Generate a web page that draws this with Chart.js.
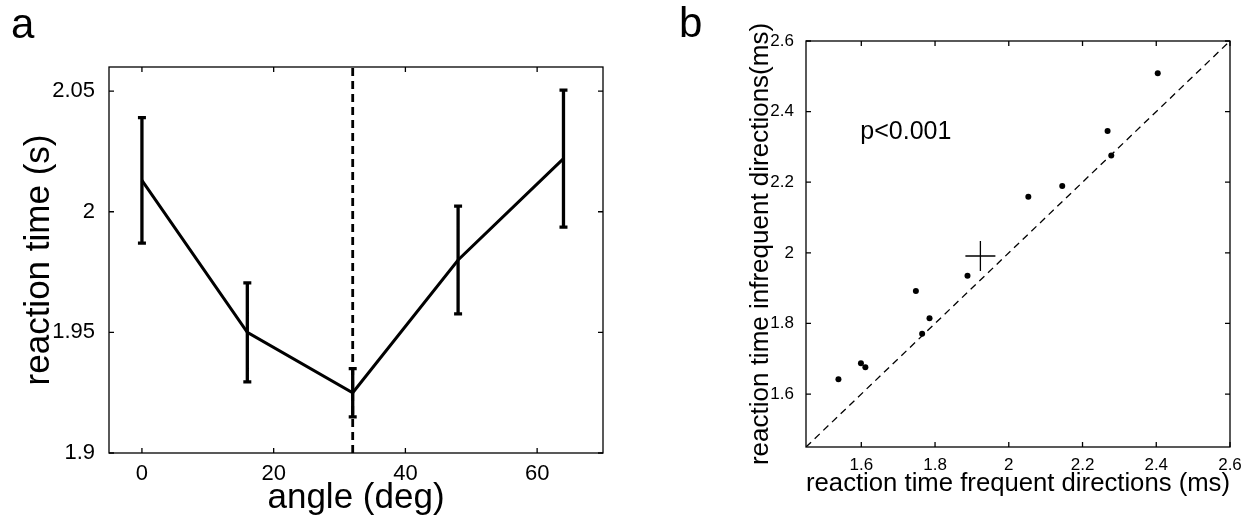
<!DOCTYPE html>
<html>
<head>
<meta charset="utf-8">
<title>reaction time</title>
<script src="https://cdn.jsdelivr.net/npm/chart.js@4.4.1/dist/chart.umd.min.js"></script>
<style>
  html, body { margin: 0; padding: 0; background: #fff; }
  #wrap { position: relative; width: 1250px; height: 518px; }
  #chartA { position: absolute; left: 0; top: 0; }
  #chartB { position: absolute; left: 625px; top: 0; }
</style>
</head>
<body>
<div id="wrap">
  <canvas id="chartA" width="625" height="518"></canvas>
  <canvas id="chartB" width="625" height="518"></canvas>
</div>
<script>
// panel a: reaction time against angle
const angles = [0, 16, 32, 48, 64];
const rtMean = [2.013, 1.950, 1.925, 1.980, 2.022];
const rtErr = [0.026, 0.0205, 0.010, 0.0223, 0.0284];
const angleLimits = [-5, 70];
const rtLimits = [1.9, 2.06];
const angleTicks = [0, 20, 40, 60];
const rtTicks = [1.9, 1.95, 2, 2.05];
const refAngle = 32;

// panel b: infrequent vs frequent directions
const rtFrequent = [1.538, 1.599, 1.611, 1.748, 1.765, 1.785, 1.888, 2.053, 2.145, 2.268, 2.278, 2.404];
const rtInfrequent = [1.642, 1.687, 1.676, 1.892, 1.771, 1.815, 1.935, 2.159, 2.189, 2.345, 2.276, 2.509];
const meanFrequent = [1.923];
const meanInfrequent = [1.991];
const diagLimits = [1.45, 2.6];
const diagTicks = [1.6, 1.8, 2, 2.2, 2.4, 2.6];

Chart.defaults.font.family = "'Liberation Sans', Arial, Helvetica, sans-serif";
Chart.defaults.color = '#000';

const fmt = v => String(Math.round(v * 1000) / 1000);

// cadre façon matlab avec graduations vers l'intérieur
const boxFrame = {
  id: 'boxFrame',
  afterDraw(chart) {
    const { ctx, chartArea: a, scales: { x, y } } = chart;
    const len = 5;
    ctx.save();
    ctx.strokeStyle = '#000';
    ctx.lineWidth = 1.3;
    ctx.strokeRect(a.left, a.top, a.right - a.left, a.bottom - a.top);
    ctx.beginPath();
    x.ticks.forEach(t => {
      const px = x.getPixelForValue(t.value);
      ctx.moveTo(px, a.bottom); ctx.lineTo(px, a.bottom - len);
      ctx.moveTo(px, a.top); ctx.lineTo(px, a.top + len);
    });
    y.ticks.forEach(t => {
      const py = y.getPixelForValue(t.value);
      ctx.moveTo(a.left, py); ctx.lineTo(a.left + len, py);
      ctx.moveTo(a.right, py); ctx.lineTo(a.right - len, py);
    });
    ctx.stroke();
    ctx.restore();
  }
};

// barres d'erreur du panneau a
const errorBars = {
  id: 'errorBars',
  afterDatasetsDraw(chart) {
    const { ctx, scales: { x, y } } = chart;
    ctx.save();
    ctx.strokeStyle = '#000';
    ctx.lineWidth = 3.3;
    ctx.beginPath();
    angles.forEach((ang, i) => {
      const px = x.getPixelForValue(ang);
      const top = y.getPixelForValue(rtMean[i] + rtErr[i]);
      const bot = y.getPixelForValue(rtMean[i] - rtErr[i]);
      ctx.moveTo(px, top); ctx.lineTo(px, bot);
      ctx.moveTo(px - 4, top); ctx.lineTo(px + 4, top);
      ctx.moveTo(px - 4, bot); ctx.lineTo(px + 4, bot);
    });
    ctx.stroke();
    ctx.restore();
  }
};

// lettres des panneaux et texte p
const labels = {
  id: 'labels',
  afterDraw(chart, args, opts) {
    const { ctx } = chart;
    ctx.save();
    ctx.fillStyle = '#000';
    ctx.textBaseline = 'alphabetic';
    ctx.font = "42px 'Liberation Sans', Arial, sans-serif";
    ctx.fillText(opts.letter, opts.lx, opts.ly);
    if (opts.note) {
      const { x, y } = chart.scales;
      ctx.font = "25px 'Liberation Sans', Arial, sans-serif";
      ctx.fillText(opts.note, x.getPixelForValue(1.6) - 1, y.getPixelForValue(2.323));
    }
    ctx.restore();
  }
};

new Chart(document.getElementById('chartA'), {
  type: 'line',
  data: {
    datasets: [
      {
        data: angles.map((a, i) => ({ x: a, y: rtMean[i] })),
        borderColor: '#000',
        borderWidth: 3,
        pointRadius: 0,
        tension: 0
      },
      {
        data: rtLimits.map(v => ({ x: refAngle, y: v })),
        borderColor: '#000',
        borderWidth: 2.8,
        borderDash: [8, 5],
        pointRadius: 0
      }
    ]
  },
  options: {
    responsive: false,
    animation: false,
    events: [],
    devicePixelRatio: 1,
    layout: { padding: { left: 0, top: 67, right: 22, bottom: 0 } },
    plugins: {
      legend: { display: false },
      tooltip: { enabled: false },
      labels: { letter: 'a', lx: 11, ly: 38 }
    },
    scales: {
      x: {
        type: 'linear',
        min: angleLimits[0],
        max: angleLimits[1],
        grid: { display: false },
        border: { display: false },
        afterBuildTicks: s => { s.ticks = angleTicks.map(v => ({ value: v })); },
        afterFit: s => { s.height = 65; },
        ticks: { font: { size: 22 }, padding: 0, maxRotation: 0, callback: fmt },
        title: { display: true, text: 'angle (deg)', font: { size: 35 }, padding: { top: 0, bottom: -1 } }
      },
      y: {
        type: 'linear',
        min: rtLimits[0],
        max: rtLimits[1],
        grid: { display: false },
        border: { display: false },
        afterBuildTicks: s => { s.ticks = rtTicks.map(v => ({ value: v })); },
        afterFit: s => { s.width = 109; },
        ticks: { font: { size: 22 }, padding: 6, callback: fmt },
        title: { display: true, text: 'reaction time (s)', font: { size: 35 }, padding: { top: 18, bottom: 0 } }
      }
    }
  },
  plugins: [errorBars, boxFrame, labels]
});

new Chart(document.getElementById('chartB'), {
  type: 'scatter',
  data: {
    datasets: [
      {
        data: rtFrequent.map((f, i) => ({ x: f, y: rtInfrequent[i] })),
        backgroundColor: '#000',
        borderColor: '#000',
        pointRadius: 3,
        borderWidth: 0
      },
      {
        data: meanFrequent.map((f, i) => ({ x: f, y: meanInfrequent[i] })),
        pointStyle: 'cross',
        pointRadius: 15,
        borderColor: '#000',
        borderWidth: 1.3
      },
      {
        type: 'line',
        data: diagLimits.map(v => ({ x: v, y: v })),
        borderColor: '#000',
        borderWidth: 1.3,
        borderDash: [7, 5],
        pointRadius: 0
      }
    ]
  },
  options: {
    responsive: false,
    animation: false,
    events: [],
    devicePixelRatio: 1,
    layout: { padding: { left: 110, top: 41, right: 20, bottom: 0 } },
    plugins: {
      legend: { display: false },
      tooltip: { enabled: false },
      labels: { letter: 'b', lx: 54, ly: 37, note: 'p<0.001' }
    },
    scales: {
      x: {
        type: 'linear',
        min: diagLimits[0],
        max: diagLimits[1],
        grid: { display: false },
        border: { display: false },
        afterBuildTicks: s => { s.ticks = diagTicks.map(v => ({ value: v })); },
        afterFit: s => { s.height = 71; },
        ticks: { font: { size: 17 }, padding: 0, maxRotation: 0, callback: fmt },
        title: { display: true, text: 'reaction time frequent directions (ms)', font: { size: 26 }, padding: { top: 0, bottom: 19 } }
      },
      y: {
        type: 'linear',
        min: diagLimits[0],
        max: diagLimits[1],
        grid: { display: false },
        border: { display: false },
        afterBuildTicks: s => { s.ticks = diagTicks.map(v => ({ value: v })); },
        afterFit: s => { s.width = 71; },
        ticks: { font: { size: 17 }, padding: 4, callback: fmt },
        title: { display: true, text: 'reaction time infrequent directions(ms)', font: { size: 26 }, padding: { top: 10, bottom: 0 } }
      }
    }
  },
  plugins: [boxFrame, labels]
});
</script>
</body>
</html>
